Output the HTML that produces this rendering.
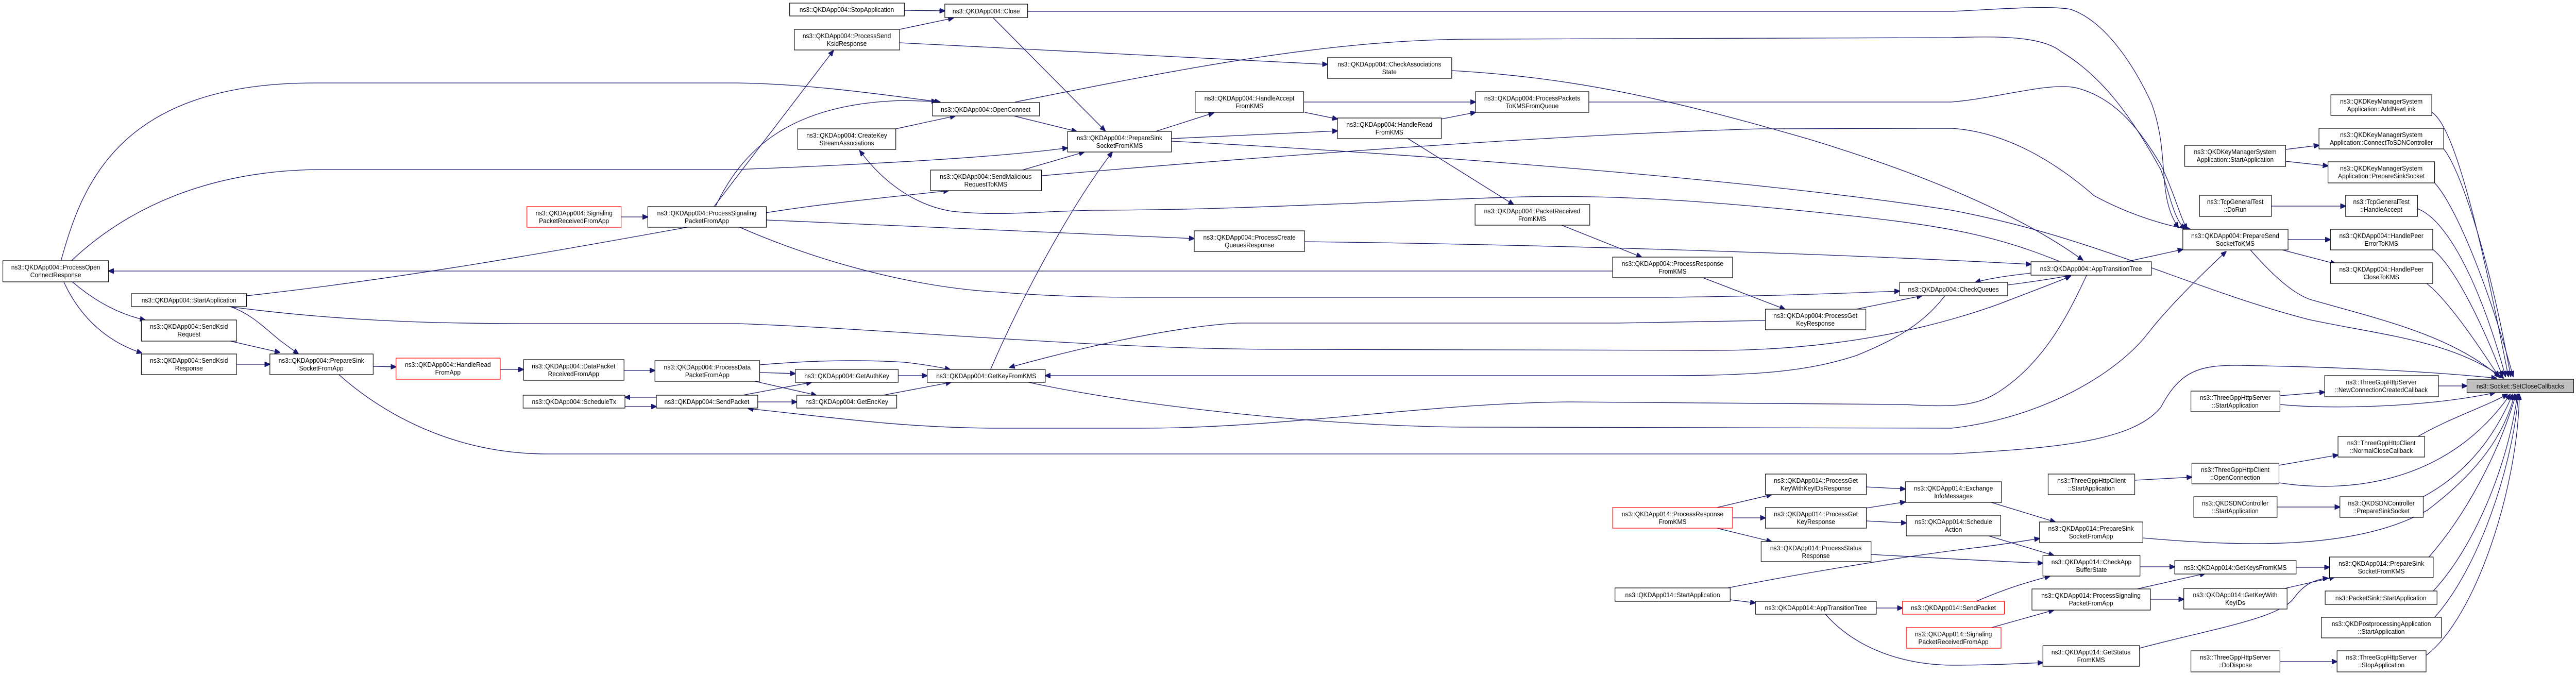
<!DOCTYPE html>
<html><head><meta charset="utf-8"><style>
html,body{margin:0;padding:0;background:#fff;overflow:hidden;width:100%;height:100%;}
svg{display:block;width:100vw;height:100vh;}
text{font-family:"Liberation Sans",sans-serif;font-size:13px;fill:#000;text-anchor:middle;}
.n{fill:#fff;stroke:#000;stroke-width:1.2;}
.r{fill:#fff;stroke:#ff0000;stroke-width:1.2;}
.g{fill:#bfbfbf;stroke:#000;stroke-width:1.2;}
.e{fill:none;stroke:#191970;stroke-width:1.3;marker-end:url(#a);}
</style></head><body>
<svg viewBox="0 0 5412 1310" preserveAspectRatio="none" xmlns="http://www.w3.org/2000/svg">
<defs><marker id="a" markerUnits="userSpaceOnUse" markerWidth="12" markerHeight="10" refX="11" refY="5" orient="auto"><path d="M0,0 L12,5 L0,10 z" fill="#191970" stroke="#191970"/></marker></defs>

<g>
<path class="e" d="M128,506 C170,370 240,161 660,161 L1550,161 C1700,163 1850,183 1975,198"/>
<path class="e" d="M150,506 C260,410 430,329 680,329 L1550,329 C1850,318 2100,305 2243,287"/>
<path class="e" d="M3388,526 L228,526"/>
<path class="e" d="M518,574 C850,540 1150,490 1450,440 C1650,400 1850,385 1993,370"/>
<path class="e" d="M480,595 C700,622 900,628 1100,628 L1550,628 C1900,640 2300,678 2700,678 L3600,680 C3850,680 4050,640 4200,590 C4270,565 4320,548 4350,536"/>
<path class="e" d="M484,595 C530,610 560,640 590,662 L627,687"/>
<path class="e" d="M152,547 C200,585 250,610 305,621"/>
<path class="e" d="M134,547 C170,620 230,665 298,685"/>
<path class="e" d="M484,662 L588,684"/>
<path class="e" d="M497,707 L567,707"/>
<path class="e" d="M784,711 L832,712"/>
<path class="e" d="M1051,717 L1100,717"/>
<path class="e" d="M1311,719 L1376,719"/>
<path class="e" d="M1596,723 L1671,725"/>
<path class="e" d="M1586,740 L1715,767"/>
<path class="e" d="M1596,708 C1700,700 1800,697 1900,703 C1940,707 1970,712 1996,717"/>
<path class="e" d="M1887,729 L1948,729"/>
<path class="e" d="M1855,767 L1998,742"/>
<path class="e" d="M1560,767 L1705,742"/>
<path class="e" d="M1592,780 L1674,780"/>
<path class="e" d="M1313,789 L1379,789"/>
<path class="e" d="M1379,771 L1313,771"/>
<path class="e" d="M4384,534 C4350,600 4300,700 4200,760 C4150,790 4100,790 4000,785 L3300,780 C3000,782 2700,831 2400,831 L2100,831 C1900,831 1750,810 1572,793"/>
<path class="e" d="M2161,742 C2400,790 2800,829 3100,829 L4100,831 C4300,810 4450,720 4510,650 C4560,590 4640,520 4677,488"/>
<path class="e" d="M712,727 C800,800 950,881 1150,881 L4100,881 C4300,870 4480,860 4540,790 C4580,720 4620,709 4700,709 C4900,712 5100,720 5245,734"/>
<path class="e" d="M2081,717 C2150,570 2250,400 2337,295"/>
<path class="e" d="M3709,622 L3400,627 L2600,627 C2450,635 2250,680 2121,713"/>
<path class="e" d="M1554,441 C1750,520 1950,560 2100,567 C2200,575 2300,577 2400,577 L3500,577 C3700,575 3850,570 3991,565"/>
<path class="e" d="M1610,427 C1900,440 2200,448 2509,463"/>
<path class="e" d="M2741,469 C3200,474 3800,490 4267,513"/>
<path class="e" d="M3575,538 L3750,600"/>
<path class="e" d="M2958,269 L3180,397"/>
<path class="e" d="M3281,437 L3449,499"/>
<path class="e" d="M3900,600 L4038,574"/>
<path class="e" d="M4086,574 C4040,630 3980,660 3900,690 C3800,720 3700,729 3500,729 L2196,729"/>
<path class="e" d="M4267,530 C4220,535 4180,540 4150,548"/>
<path class="e" d="M4218,553 C4260,548 4320,540 4351,534"/>
<path class="e" d="M4467,508 L4586,484"/>
<path class="e" d="M1900,20 L1985,21"/>
<path class="e" d="M1890,57 L2003,35"/>
<path class="e" d="M1890,83 L2789,125"/>
<path class="e" d="M3050,137 C3300,150 3500,190 3800,270 C4050,340 4250,420 4376,505"/>
<path class="e" d="M2087,35 L2322,254"/>
<path class="e" d="M2130,225 L2262,255"/>
<path class="e" d="M1882,250 L2007,225"/>
<path class="e" d="M4326,507 C4200,460 4100,440 3900,420 C3600,390 3400,378 3200,382 C2900,390 2600,408 2300,408 C2180,410 2100,420 2000,410 C1930,400 1860,360 1806,292"/>
<path class="e" d="M2148,330 L2278,295"/>
<path class="e" d="M1500,401 L1751,98"/>
<path class="e" d="M1503,401 C1560,290 1660,200 1900,195 L1968,197"/>
<path class="e" d="M1305,421 L1361,421"/>
<path class="e" d="M2428,255 L2550,219"/>
<path class="e" d="M2461,269 L2810,254"/>
<path class="e" d="M2739,198 L3100,198"/>
<path class="e" d="M2741,218 L2810,231"/>
<path class="e" d="M3028,231 L3100,218"/>
<path class="e" d="M2159,22 L4100,22 C4200,18 4300,10 4350,18 C4420,40 4480,120 4520,200 C4560,300 4530,380 4577,442"/>
<path class="e" d="M2133,198 C2500,130 2800,76 3100,76 L4100,73 C4200,70 4290,70 4330,100 C4420,150 4480,230 4540,330 C4560,380 4565,420 4590,445"/>
<path class="e" d="M3338,198 L4100,198 C4200,190 4300,160 4360,170 C4450,190 4500,260 4540,320 C4570,380 4580,420 4595,445"/>
<path class="e" d="M2189,341 C2700,300 3300,260 3700,250 L4100,249 C4200,255 4300,300 4400,380 C4480,420 4560,440 4602,445"/>
<path class="e" d="M2461,274 C3000,300 3700,350 4100,408 C4400,460 4600,560 4850,620 C5000,650 5150,660 5260,734"/>
<path class="e" d="M4728,485 C4780,540 4820,570 4853,581 C5000,620 5150,650 5252,732"/>
<path class="e" d="M4807,465 L4896,465"/>
<path class="e" d="M4795,485 L4907,512"/>
<path class="e" d="M4802,290 L4872,282"/>
<path class="e" d="M4802,313 L4891,322"/>
<path class="e" d="M4772,400 L4928,400"/>
<path class="e" d="M5109,218 C5150,240 5200,400 5270,731"/>
<path class="e" d="M5134,289 C5170,330 5230,500 5275,731"/>
<path class="e" d="M5115,355 C5160,400 5230,560 5280,731"/>
<path class="e" d="M5079,405 C5150,430 5220,580 5264,731"/>
<path class="e" d="M5111,484 C5160,520 5220,640 5258,731"/>
<path class="e" d="M5098,550 C5140,580 5200,660 5250,731"/>
<path class="e" d="M5123,749 L5183,749"/>
<path class="e" d="M4790,768 L4884,761"/>
<path class="e" d="M4790,785 C4900,795 5100,790 5242,762"/>
<path class="e" d="M4485,932 L4605,926"/>
<path class="e" d="M4788,903 L4912,883"/>
<path class="e" d="M5080,847 C5150,810 5220,790 5268,765"/>
<path class="e" d="M4788,937 C4950,960 5150,930 5274,765"/>
<path class="e" d="M4784,984 L4916,984"/>
<path class="e" d="M5091,964 C5180,920 5240,850 5279,765"/>
<path class="e" d="M4502,1044 C4700,1060 4950,1070 5100,990 C5200,920 5260,850 5283,765"/>
<path class="e" d="M5103,1081 C5180,1000 5250,880 5286,765"/>
<path class="e" d="M5112,1147 C5200,1060 5270,900 5289,765"/>
<path class="e" d="M5115,1198 C5210,1100 5280,900 5291,765"/>
<path class="e" d="M5097,1272 C5200,1200 5290,950 5293,765"/>
<path class="e" d="M4790,1284 L4910,1284"/>
<path class="e" d="M3607,985 L3722,960"/>
<path class="e" d="M3640,1005 L3709,1005"/>
<path class="e" d="M3607,1025 L3722,1051"/>
<path class="e" d="M3921,945 L4003,949"/>
<path class="e" d="M3921,986 L4003,974"/>
<path class="e" d="M3921,1011 L4005,1015"/>
<path class="e" d="M3635,1164 L3688,1170"/>
<path class="e" d="M3942,1180 L3997,1180"/>
<path class="e" d="M4180,974 L4318,1013"/>
<path class="e" d="M4178,1040 L4315,1078"/>
<path class="e" d="M4152,1167 C4220,1140 4260,1130 4307,1118"/>
<path class="e" d="M4184,1218 L4315,1184"/>
<path class="e" d="M3630,1141 C3800,1110 4000,1080 4150,1063 C4200,1058 4250,1050 4285,1045"/>
<path class="e" d="M3931,1076 C4050,1082 4200,1090 4292,1093"/>
<path class="e" d="M3835,1192 C3900,1260 4000,1290 4100,1291 C4180,1291 4240,1288 4292,1286"/>
<path class="e" d="M4496,1100 L4569,1100"/>
<path class="e" d="M4490,1143 L4633,1113"/>
<path class="e" d="M4518,1163 L4588,1163"/>
<path class="e" d="M4824,1101 L4894,1101"/>
<path class="e" d="M4800,1142 L4905,1120"/>
<path class="e" d="M4495,1258 C4650,1220 4790,1200 4820,1160 C4840,1135 4860,1125 4891,1122"/>
</g>

<g>
<rect class="n" x="6" y="506" width="222" height="41"/><text x="117" y="523">ns3::QKDApp004::ProcessOpen</text><text x="117" y="538">ConnectResponse</text>
<rect class="n" x="276" y="570" width="242" height="25"/><text x="397" y="587">ns3::QKDApp004::StartApplication</text>
<rect class="n" x="297" y="621" width="200" height="41"/><text x="397" y="638">ns3::QKDApp004::SendKsid</text><text x="397" y="653">Request</text>
<rect class="n" x="297" y="687" width="200" height="40"/><text x="397" y="704">ns3::QKDApp004::SendKsid</text><text x="397" y="719">Response</text>
<rect class="n" x="567" y="687" width="217" height="40"/><text x="675" y="704">ns3::QKDApp004::PrepareSink</text><text x="675" y="719">SocketFromApp</text>
<rect class="r" x="832" y="695" width="219" height="41"/><text x="941" y="712">ns3::QKDApp004::HandleRead</text><text x="941" y="727">FromApp</text>
<rect class="n" x="1100" y="698" width="211" height="40"/><text x="1205" y="715">ns3::QKDApp004::DataPacket</text><text x="1205" y="730">ReceivedFromApp</text>
<rect class="n" x="1376" y="700" width="220" height="40"/><text x="1486" y="717">ns3::QKDApp004::ProcessData</text><text x="1486" y="732">PacketFromApp</text>
<rect class="n" x="1099" y="767" width="214" height="25"/><text x="1206" y="784">ns3::QKDApp004::ScheduleTx</text>
<rect class="n" x="1379" y="767" width="213" height="25"/><text x="1485" y="784">ns3::QKDApp004::SendPacket</text>
<rect class="n" x="1671" y="717" width="216" height="25"/><text x="1779" y="734">ns3::QKDApp004::GetAuthKey</text>
<rect class="n" x="1674" y="767" width="210" height="25"/><text x="1779" y="784">ns3::QKDApp004::GetEncKey</text>
<rect class="n" x="1948" y="717" width="248" height="25"/><text x="2072" y="734">ns3::QKDApp004::GetKeyFromKMS</text>
<rect class="n" x="1659" y="6" width="241" height="25"/><text x="1779" y="23">ns3::QKDApp004::StopApplication</text>
<rect class="n" x="1985" y="8" width="174" height="26"/><text x="2072" y="26">ns3::QKDApp004::Close</text>
<rect class="n" x="1669" y="57" width="221" height="40"/><text x="1779" y="74">ns3::QKDApp004::ProcessSend</text><text x="1779" y="89">KsidResponse</text>
<rect class="n" x="1959" y="199" width="225" height="26"/><text x="2071" y="217">ns3::QKDApp004::OpenConnect</text>
<rect class="n" x="1676" y="250" width="206" height="40"/><text x="1779" y="267">ns3::QKDApp004::CreateKey</text><text x="1779" y="282">StreamAssociations</text>
<rect class="n" x="1955" y="330" width="233" height="40"/><text x="2071" y="347">ns3::QKDApp004::SendMalicious</text><text x="2071" y="362">RequestToKMS</text>
<rect class="r" x="1107" y="401" width="198" height="40"/><text x="1206" y="418">ns3::QKDApp004::Signaling</text><text x="1206" y="433">PacketReceivedFromApp</text>
<rect class="n" x="1361" y="401" width="249" height="40"/><text x="1485" y="418">ns3::QKDApp004::ProcessSignaling</text><text x="1485" y="433">PacketFromApp</text>
<rect class="n" x="2243" y="255" width="218" height="40"/><text x="2352" y="272">ns3::QKDApp004::PrepareSink</text><text x="2352" y="287">SocketFromKMS</text>
<rect class="n" x="2511" y="178" width="228" height="40"/><text x="2625" y="195">ns3::QKDApp004::HandleAccept</text><text x="2625" y="210">FromKMS</text>
<rect class="n" x="2810" y="229" width="218" height="40"/><text x="2919" y="246">ns3::QKDApp004::HandleRead</text><text x="2919" y="261">FromKMS</text>
<rect class="n" x="2789" y="112" width="261" height="40"/><text x="2919" y="129">ns3::QKDApp004::CheckAssociations</text><text x="2919" y="144">State</text>
<rect class="n" x="2509" y="448" width="232" height="40"/><text x="2625" y="465">ns3::QKDApp004::ProcessCreate</text><text x="2625" y="480">QueuesResponse</text>
<rect class="n" x="3100" y="178" width="238" height="40"/><text x="3219" y="195">ns3::QKDApp004::ProcessPackets</text><text x="3219" y="210">ToKMSFromQueue</text>
<rect class="n" x="3099" y="397" width="241" height="40"/><text x="3219" y="414">ns3::QKDApp004::PacketReceived</text><text x="3219" y="429">FromKMS</text>
<rect class="n" x="3388" y="499" width="252" height="40"/><text x="3514" y="516">ns3::QKDApp004::ProcessResponse</text><text x="3514" y="531">FromKMS</text>
<rect class="n" x="3709" y="600" width="211" height="40"/><text x="3814" y="617">ns3::QKDApp004::ProcessGet</text><text x="3814" y="632">KeyResponse</text>
<rect class="n" x="3991" y="548" width="227" height="26"/><text x="4104" y="566">ns3::QKDApp004::CheckQueues</text>
<rect class="n" x="4267" y="508" width="253" height="26"/><text x="4393" y="526">ns3::QKDApp004::AppTransitionTree</text>
<rect class="n" x="4586" y="445" width="221" height="40"/><text x="4696" y="462">ns3::QKDApp004::PrepareSend</text><text x="4696" y="477">SocketToKMS</text>

<rect class="n" x="4897" y="184" width="212" height="40"/><text x="5003" y="201">ns3::QKDKeyManagerSystem</text><text x="5003" y="216">Application::AddNewLink</text>
<rect class="n" x="4872" y="249" width="262" height="40"/><text x="5003" y="266">ns3::QKDKeyManagerSystem</text><text x="5003" y="281">Application::ConnectToSDNController</text>
<rect class="n" x="4590" y="282" width="212" height="41"/><text x="4696" y="299">ns3::QKDKeyManagerSystem</text><text x="4696" y="314">Application::StartApplication</text>
<rect class="n" x="4891" y="314" width="224" height="41"/><text x="5003" y="331">ns3::QKDKeyManagerSystem</text><text x="5003" y="346">Application::PrepareSinkSocket</text>
<rect class="n" x="4621" y="379" width="151" height="41"/><text x="4696" y="396">ns3::TcpGeneralTest</text><text x="4696" y="411">::DoRun</text>
<rect class="n" x="4928" y="379" width="151" height="41"/><text x="5003" y="396">ns3::TcpGeneralTest</text><text x="5003" y="411">::HandleAccept</text>
<rect class="n" x="4896" y="445" width="215" height="40"/><text x="5003" y="462">ns3::QKDApp004::HandlePeer</text><text x="5003" y="477">ErrorToKMS</text>
<rect class="n" x="4896" y="510" width="215" height="40"/><text x="5003" y="527">ns3::QKDApp004::HandlePeer</text><text x="5003" y="542">CloseToKMS</text>

<rect class="g" x="5183" y="736" width="224" height="26"/><text x="5295" y="754">ns3::Socket::SetCloseCallbacks</text>
<rect class="n" x="4884" y="729" width="239" height="41"/><text x="5003" y="746">ns3::ThreeGppHttpServer</text><text x="5003" y="761">::NewConnectionCreatedCallback</text>
<rect class="n" x="4603" y="759" width="187" height="40"/><text x="4696" y="776">ns3::ThreeGppHttpServer</text><text x="4696" y="791">::StartApplication</text>
<rect class="n" x="4912" y="847" width="182" height="40"/><text x="5003" y="864">ns3::ThreeGppHttpClient</text><text x="5003" y="879">::NormalCloseCallback</text>
<rect class="n" x="4605" y="899" width="183" height="40"/><text x="4696" y="916">ns3::ThreeGppHttpClient</text><text x="4696" y="931">::OpenConnection</text>
<rect class="n" x="4303" y="920" width="182" height="40"/><text x="4394" y="937">ns3::ThreeGppHttpClient</text><text x="4394" y="952">::StartApplication</text>
<rect class="n" x="4609" y="964" width="175" height="40"/><text x="4696" y="981">ns3::QKDSDNController</text><text x="4696" y="996">::StartApplication</text>
<rect class="n" x="4916" y="964" width="175" height="40"/><text x="5003" y="981">ns3::QKDSDNController</text><text x="5003" y="996">::PrepareSinkSocket</text>
<rect class="n" x="4285" y="1013" width="217" height="40"/><text x="4393" y="1030">ns3::QKDApp014::PrepareSink</text><text x="4393" y="1045">SocketFromApp</text>
<rect class="n" x="4292" y="1078" width="204" height="40"/><text x="4394" y="1095">ns3::QKDApp014::CheckApp</text><text x="4394" y="1110">BufferState</text>
<rect class="n" x="4569" y="1088" width="255" height="26"/><text x="4696" y="1106">ns3::QKDApp014::GetKeysFromKMS</text>
<rect class="n" x="4894" y="1081" width="218" height="40"/><text x="5003" y="1098">ns3::QKDApp014::PrepareSink</text><text x="5003" y="1113">SocketFromKMS</text>
<rect class="n" x="4269" y="1143" width="249" height="41"/><text x="4393" y="1160">ns3::QKDApp014::ProcessSignaling</text><text x="4393" y="1175">PacketFromApp</text>
<rect class="n" x="4588" y="1142" width="217" height="40"/><text x="4696" y="1159">ns3::QKDApp014::GetKeyWith</text><text x="4696" y="1174">KeyIDs</text>
<rect class="n" x="4885" y="1147" width="235" height="26"/><text x="5002" y="1165">ns3::PacketSink::StartApplication</text>
<rect class="n" x="4877" y="1198" width="252" height="40"/><text x="5003" y="1215">ns3::QKDPostprocessingApplication</text><text x="5003" y="1230">::StartApplication</text>
<rect class="n" x="4292" y="1253" width="203" height="40"/><text x="4393" y="1270">ns3::QKDApp014::GetStatus</text><text x="4393" y="1285">FromKMS</text>
<rect class="n" x="4603" y="1263" width="187" height="41"/><text x="4696" y="1280">ns3::ThreeGppHttpServer</text><text x="4696" y="1295">::DoDispose</text>
<rect class="n" x="4910" y="1263" width="187" height="41"/><text x="5003" y="1280">ns3::ThreeGppHttpServer</text><text x="5003" y="1295">::StopApplication</text>

<rect class="r" x="3388" y="985" width="252" height="40"/><text x="3514" y="1002">ns3::QKDApp014::ProcessResponse</text><text x="3514" y="1017">FromKMS</text>
<rect class="n" x="3709" y="920" width="212" height="40"/><text x="3815" y="937">ns3::QKDApp014::ProcessGet</text><text x="3815" y="952">KeyWithKeyIDsResponse</text>
<rect class="n" x="3709" y="985" width="212" height="40"/><text x="3815" y="1002">ns3::QKDApp014::ProcessGet</text><text x="3815" y="1017">KeyResponse</text>
<rect class="n" x="3700" y="1051" width="231" height="39"/><text x="3815" y="1068">ns3::QKDApp014::ProcessStatus</text><text x="3815" y="1083">Response</text>
<rect class="n" x="4003" y="935" width="202" height="40"/><text x="4104" y="952">ns3::QKDApp014::Exchange</text><text x="4104" y="967">InfoMessages</text>
<rect class="n" x="4005" y="1000" width="198" height="40"/><text x="4104" y="1017">ns3::QKDApp014::Schedule</text><text x="4104" y="1032">Action</text>
<rect class="n" x="3393" y="1141" width="242" height="26"/><text x="3514" y="1159">ns3::QKDApp014::StartApplication</text>
<rect class="n" x="3688" y="1167" width="254" height="25"/><text x="3815" y="1184">ns3::QKDApp014::AppTransitionTree</text>
<rect class="r" x="3997" y="1167" width="214" height="25"/><text x="4104" y="1184">ns3::QKDApp014::SendPacket</text>
<rect class="r" x="4005" y="1218" width="199" height="40"/><text x="4104" y="1235">ns3::QKDApp014::Signaling</text><text x="4104" y="1250">PacketReceivedFromApp</text>
</g>
</svg>
</body></html>
